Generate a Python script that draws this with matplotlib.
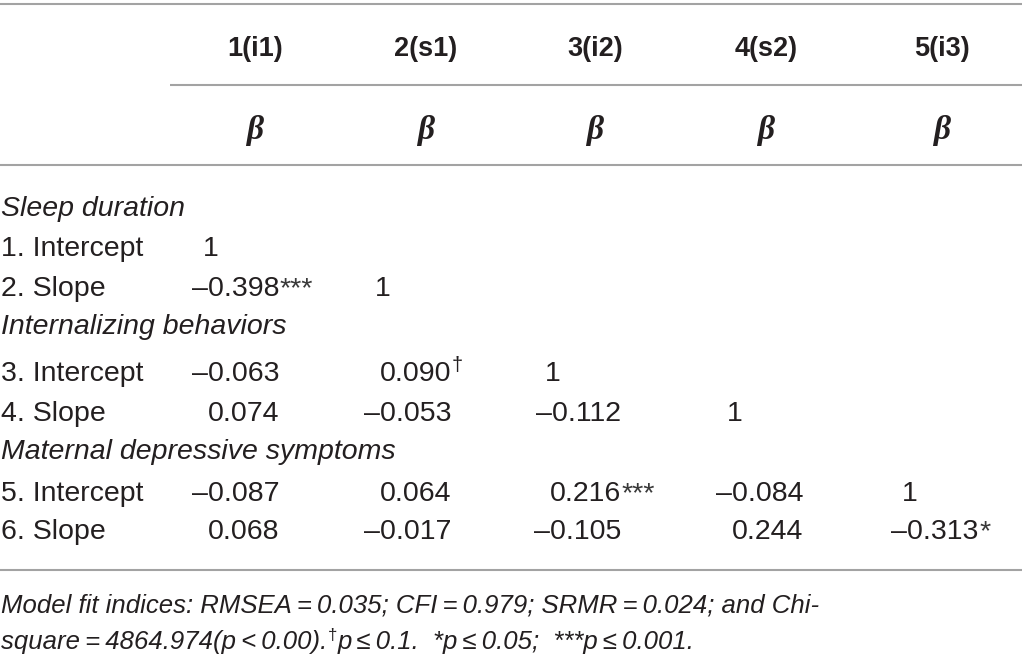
import matplotlib
matplotlib.use("Agg")
import matplotlib.pyplot as plt

plt.rcParams['font.family'] = ['Liberation Sans', 'DejaVu Sans']

col_headers = ['1(i1)', '2(s1)', '3(i2)', '4(s2)', '5(i3)']
row_labels = ['Sleep duration', '1. Intercept', '2. Slope',
              'Internalizing behaviors', '3. Intercept', '4. Slope',
              'Maternal depressive symptoms', '5. Intercept', '6. Slope']
is_group = [True, False, False, True, False, False, True, False, False]

# correlation values per row, markers per cell
values = [
    [],
    [1],
    [-0.398, 1],
    [],
    [-0.063, 0.090, 1],
    [0.074, -0.053, -0.112, 1],
    [],
    [-0.087, 0.064, 0.216, -0.084, 1],
    [0.068, -0.017, -0.105, 0.244, -0.313],
]
marks = [
    [],
    [''],
    ['***', ''],
    [],
    ['', '\u2020', ''],
    ['', '', '', ''],
    [],
    ['', '', '***', '', ''],
    ['', '', '', '', '*'],
]
footnote1 = 'Model fit indices: RMSEA\u2009=\u20090.035; CFI\u2009=\u20090.979; SRMR\u2009=\u20090.024; and Chi-'
footnote2a = 'square\u2009=\u20094864.974(p\u2009<\u20090.00).'
footnote2b = 'p\u2009\u2264\u20090.1.  *p\u2009\u2264\u20090.05;  ***p\u2009\u2264\u20090.001.'

# layout (pixels)
W, H = 1022, 665
head_x = [255, 426, 595, 766, 942]
num_right = [279, 451, 621, 803, 978]
one_offset = 60
row_y = [207, 247, 287, 325, 372, 412, 450, 492, 530]
txt = '#231f20'
rule = '#a3a3a3'
fs = 20.5

fig = plt.figure(figsize=(W / 100, H / 100), dpi=100)
ax = fig.add_axes([0, 0, 1, 1])
ax.set_xlim(0, W)
ax.set_ylim(H, 0)
ax.axis('off')

for x0, y in [(0, 4), (170, 85), (0, 165), (0, 570)]:
    ax.plot([x0, W], [y, y], color=rule, lw=1.5, solid_capstyle='butt')

for x, h in zip(head_x, col_headers):
    ax.text(x, 56, h, ha='center', va='baseline', fontsize=19.5, fontweight='bold', color=txt)
    ax.text(x, 130, '\u03b2', ha='center', va='center', fontsize=24,
            family='Liberation Serif', fontweight='bold', fontstyle='italic', color=txt)

for y, lab, grp, vals, mks in zip(row_y, row_labels, is_group, values, marks):
    ax.text(1, y + 9, lab, ha='left', va='baseline', fontsize=fs,
            fontstyle='italic' if grp else 'normal', color=txt)
    for j, (v, m) in enumerate(zip(vals, mks)):
        xr = num_right[j]
        if v == 1:
            ax.text(xr - one_offset, y + 9, '1', ha='right', va='baseline', fontsize=fs, color=txt)
            continue
        s = f'{v:.3f}'.replace('-', '\u2013')
        ax.text(xr, y + 9, s, ha='right', va='baseline', fontsize=fs, color=txt)
        if m == '\u2020':
            ax.text(xr + 1, y - 1, m, ha='left', va='baseline', fontsize=fs * 0.7, color=txt)
        elif m:
            ax.text(xr + 1, y + 9, m, ha='left', va='baseline', fontsize=fs, color='#3a3a3a')

fs2 = 18.5
ax.text(1, 612, footnote1, ha='left', va='baseline', fontsize=fs2, fontstyle='italic', color=txt)
t2 = ax.text(1, 649, footnote2a, ha='left', va='baseline', fontsize=fs2, fontstyle='italic', color=txt)
fig.canvas.draw()
x_end = t2.get_window_extent().x1
ax.text(x_end + 1, 640, '\u2020', ha='left', va='baseline', fontsize=fs2 * 0.65, color=txt)
ax.text(x_end + 10, 649, footnote2b, ha='left', va='baseline', fontsize=fs2, fontstyle='italic', color=txt)

fig.savefig('out.png', dpi=100, facecolor='white')
